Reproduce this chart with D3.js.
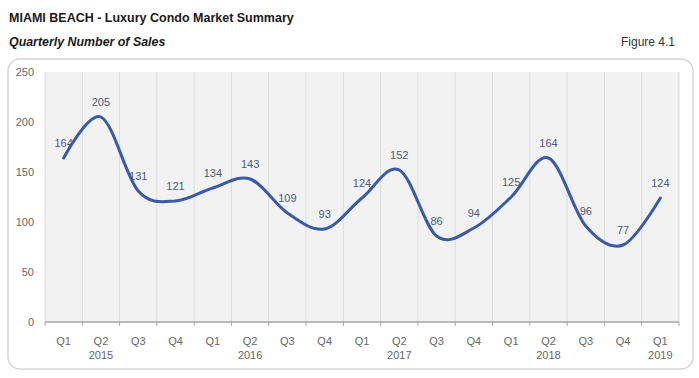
<!DOCTYPE html>
<html><head><meta charset="utf-8">
<script src="https://cdn.jsdelivr.net/npm/d3@7"></script>
<style>
body{margin:0;background:#fff;}
svg{display:block;font-family:"Liberation Sans",Arial,sans-serif;}
</style></head>
<body><svg id="c" width="699" height="378"></svg>
<script>
const quarters = ["Q1","Q2","Q3","Q4","Q1","Q2","Q3","Q4","Q1","Q2","Q3","Q4","Q1","Q2","Q3","Q4","Q1"];
const years = ["","2015","","","","2016","","","","2017","","","","2018","","","2019"];
const sales = [164,205,131,121,134,143,109,93,124,152,86,94,125,164,96,77,124];
const yTicks = [0,50,100,150,200,250];

const svg = d3.select("#c");
const plot = {l:45, r:679, t:72, b:322};

// titles
svg.append("text").attr("x",9).attr("y",22).attr("font-size",12.5).attr("font-weight","bold")
  .attr("fill","#1a1a1a").text("MIAMI BEACH - Luxury Condo Market Summary");
svg.append("text").attr("x",9).attr("y",46).attr("font-size",12.4).attr("font-weight","bold")
  .attr("font-style","italic").attr("fill","#1a1a1a").text("Quarterly Number of Sales");
svg.append("text").attr("x",675).attr("y",46).attr("font-size",12).attr("text-anchor","end")
  .attr("fill","#333").text("Figure 4.1");

// frame
svg.append("rect").attr("x",8).attr("y",59).attr("width",685).attr("height",310)
  .attr("rx",12).attr("fill","#fff").attr("stroke","#d6d6d6").attr("stroke-width",1.5);

const idx = d3.range(sales.length);
const x = d3.scaleBand().domain(idx).range([plot.l, plot.r]).paddingInner(0).paddingOuter(0);
const y = d3.scaleLinear().domain([0,250]).range([plot.b, plot.t]);

svg.append("rect").attr("x",plot.l).attr("y",plot.t).attr("width",plot.r-plot.l)
  .attr("height",plot.b-plot.t).attr("fill","#f2f2f2");

// vertical gridlines at band boundaries
const bounds = idx.map(i => x(i)).concat([plot.r]);
svg.append("g").selectAll("line").data(bounds).join("line")
  .attr("x1",d=>d).attr("x2",d=>d).attr("y1",plot.t).attr("y2",plot.b)
  .attr("stroke","#dcdcdc").attr("stroke-width",1);

// y axis labels
svg.append("g").selectAll("text").data(yTicks).join("text")
  .attr("x",34).attr("y",d=>y(d)).attr("dy","0.35em").attr("text-anchor","end")
  .attr("font-size",11).attr("fill","#666").text(d=>d);

// x axis
svg.append("line").attr("x1",plot.l).attr("x2",plot.r).attr("y1",plot.b).attr("y2",plot.b)
  .attr("stroke","#a6a6a6").attr("stroke-width",1.5);
svg.append("g").selectAll("line").data(bounds).join("line")
  .attr("x1",d=>d).attr("x2",d=>d).attr("y1",plot.b).attr("y2",plot.b+4)
  .attr("stroke","#a6a6a6").attr("stroke-width",1);
const cx = i => x(i) + x.bandwidth()/2;
svg.append("g").selectAll("text").data(quarters).join("text")
  .attr("x",(d,i)=>cx(i)).attr("y",345).attr("text-anchor","middle")
  .attr("font-size",11).attr("fill","#666").text(d=>d);
svg.append("g").selectAll("text").data(years).join("text")
  .attr("x",(d,i)=>cx(i)).attr("y",359).attr("text-anchor","middle")
  .attr("font-size",11).attr("fill","#666").text(d=>d);

// line
const line = d3.line().x((d,i)=>cx(i)).y(d=>y(d)).curve(d3.curveCatmullRom.alpha(0));
svg.append("path").datum(sales).attr("d",line).attr("fill","none")
  .attr("stroke","#3a5aa8").attr("stroke-width",3).attr("stroke-linecap","round");

// data labels
svg.append("g").selectAll("text").data(sales).join("text")
  .attr("x",(d,i)=>cx(i)).attr("y",d=>y(d)-15).attr("dy","0.35em").attr("text-anchor","middle")
  .attr("font-size",11).attr("fill","#4a5a7a").text(d=>d);
</script></body></html>
